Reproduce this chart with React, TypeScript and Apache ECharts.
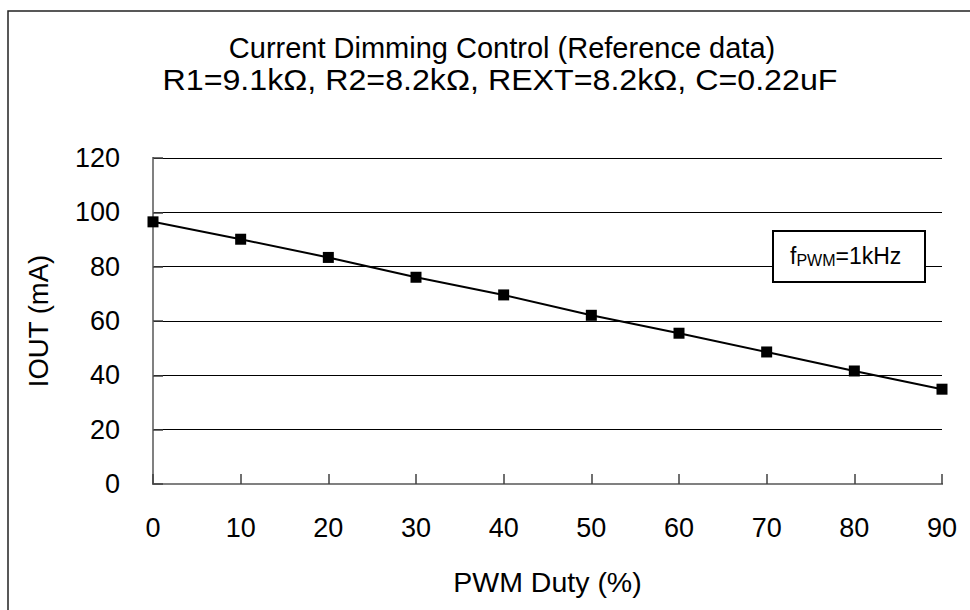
import React, { useEffect, useRef } from "react";
import * as echarts from "echarts";

const titleLines = [
  "Current Dimming Control (Reference data)",
  "R1=9.1kΩ, R2=8.2kΩ, REXT=8.2kΩ, C=0.22uF",
];
const xName = "PWM Duty (%)";
const yName = "IOUT (mA)";
const dutyValues = [0, 10, 20, 30, 40, 50, 60, 70, 80, 90];
const ioutValues = [96.5, 90.1, 83.4, 76.1, 69.6, 62.1, 55.5, 48.6, 41.6, 34.9];

const FONT = "'Liberation Sans', Arial, sans-serif";

export default function App() {
  const ref = useRef<HTMLDivElement>(null);
  useEffect(() => {
    if (!ref.current) return;
    const chart = echarts.init(ref.current, null, { renderer: "svg" });
    const data = dutyValues.map((d, i) => [d, ioutValues[i]]);
    chart.setOption({
      animation: false,
      backgroundColor: "#fff",
      textStyle: { fontFamily: FONT },
      title: {
        text: titleLines[0],
        left: 497,
        top: 26,
        textAlign: "center",
        textStyle: {
          fontFamily: FONT,
          fontSize: 29,
          fontWeight: "normal",
          color: "#000",
          lineHeight: 33,
        },
      },
      grid: { left: 153, right: 28, top: 158, bottom: 126, containLabel: false },
      xAxis: [
        {
          type: "value",
          min: 0,
          max: 90,
          interval: 10,
          name: xName,
          nameLocation: "middle",
          nameGap: 83,
          nameTextStyle: { fontFamily: FONT, fontSize: 28.5, color: "#000" },
          axisLine: { show: true, lineStyle: { color: "#404040", width: 2 } },
          axisTick: { show: true, inside: true, length: 10, lineStyle: { color: "#404040", width: 1.5 } },
          axisLabel: { margin: 30, fontFamily: FONT, fontSize: 27, color: "#000" },
          splitLine: { show: false },
        },
        {
          type: "value",
          position: "top",
          min: 0,
          max: 90,
          interval: 10,
          axisLine: { show: true, lineStyle: { color: "#808080", width: 2 } },
          axisTick: { show: false },
          axisLabel: { show: false },
          splitLine: { show: false },
        },
      ],
      yAxis: [
        {
          type: "value",
          min: 0,
          max: 120,
          interval: 20,
          name: yName,
          nameLocation: "middle",
          nameGap: 101,
          nameTextStyle: { fontFamily: FONT, fontSize: 27.5, color: "#000" },
          axisLine: { show: true, lineStyle: { color: "#404040", width: 2 } },
          axisTick: { show: true, inside: true, length: 10, lineStyle: { color: "#404040", width: 1.5 } },
          axisLabel: { margin: 33, fontFamily: FONT, fontSize: 27, color: "#000" },
          splitLine: { show: true, lineStyle: { color: "#000", width: 1 } },
        },
        {
          type: "value",
          position: "right",
          min: 0,
          max: 120,
          interval: 20,
          axisLine: { show: true, lineStyle: { color: "#808080", width: 2 } },
          axisTick: { show: false },
          axisLabel: { show: false },
          splitLine: { show: false },
        },
      ],
      series: [
        {
          type: "line",
          data,
          xAxisIndex: 0,
          yAxisIndex: 0,
          symbol: "rect",
          symbolSize: 11,
          itemStyle: { color: "#000" },
          lineStyle: { color: "#000", width: 2 },
          z: 5,
        },
      ],
      graphic: [
        {
          type: "rect",
          shape: { x: 8, y: 11, width: 1000, height: 700 },
          style: { fill: "none", stroke: "#222", lineWidth: 1.5 },
          silent: true,
        },
        {
          type: "text",
          x: 500,
          y: 80,
          scaleX: 1.11,
          style: {
            text: titleLines[1],
            fontFamily: FONT,
            fontSize: 29,
            fill: "#000",
            align: "center",
            verticalAlign: "middle",
          },
        },
        {
          type: "rect",
          shape: { x: 773, y: 231, width: 152, height: 51 },
          style: { fill: "#fff", stroke: "#000", lineWidth: 2 },
          z: 10,
        },
        {
          type: "text",
          x: 790,
          y: 256,
          z: 11,
          style: {
            text: "{n|f}{s|PWM}{n|=1kHz}",
            verticalAlign: "middle",
            rich: {
              n: { fontFamily: FONT, fontSize: 23, color: "#000", lineHeight: 28 },
              s: { fontFamily: FONT, fontSize: 16, color: "#000", lineHeight: 28, padding: [9, 0, 0, 0] },
            },
          },
        },
      ],
    });
    return () => chart.dispose();
  }, []);
  return (
    <div
      ref={ref}
      style={{ position: "fixed", left: 0, top: 0, width: 970, height: 610 }}
    />
  );
}
